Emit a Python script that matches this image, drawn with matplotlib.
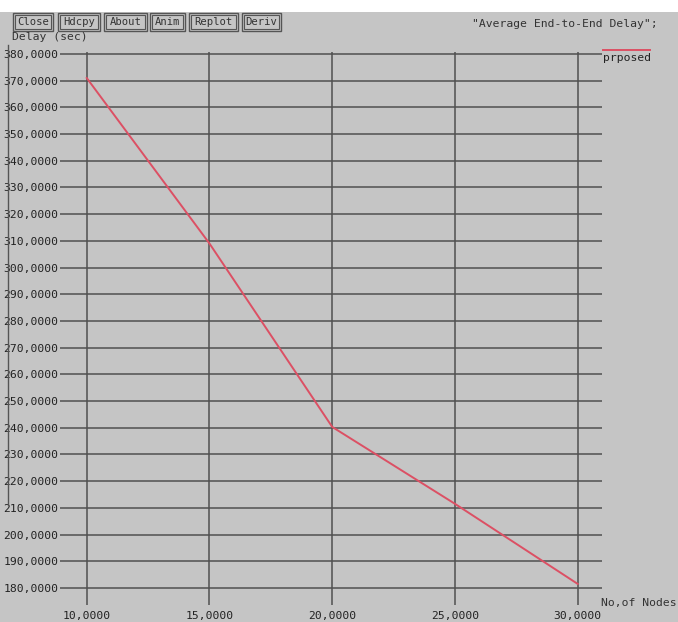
import matplotlib
matplotlib.use("Agg")
import matplotlib.pyplot as plt
from matplotlib.patches import Rectangle
from matplotlib.lines import Line2D

# ---- data ----
nodes = [10, 15, 20, 25, 30]
delay = [371.0, 309.0, 240.3, 211.5, 181.5]
series_name = "prposed"
x_ticks = [10, 15, 20, 25, 30]
y_ticks = list(range(180, 381, 10))
title_text = '"Average End-to-End Delay";'
x_label = "No,of Nodes"
y_label = "Delay (sec)"
buttons = ["Close", "Hdcpy", "About", "Anim", "Replot", "Deriv"]

W, H = 678, 622
BG = "#c5c5c5"
GRID = "#505050"
LINE = "#dc5064"
FONT = "DejaVu Sans Mono"
FS = 8.2

fig = plt.figure(figsize=(W / 100, H / 100), dpi=100, facecolor=BG)

def fx(px):
    return px / W

def fy(py):
    return 1 - py / H

# axes frame in pixels: x 60..602, y 52..605
L, R, T, B = 60, 602, 52, 605
ax = fig.add_axes([fx(L), fy(B), fx(R - L), (B - T) / H])
ax.set_facecolor(BG)
for s in ax.spines.values():
    s.set_visible(False)

ax.plot(nodes, delay, color=LINE, lw=1.4, zorder=3)

# data limits mapped to the pixel frame
ax.set_xlim(8.91, 30.99)
ax.set_ylim(173.6, 380.75)
ax.set_xticks(x_ticks)
ax.set_xticklabels([f"{v:.4f}".replace(".", ",") for v in x_ticks])
ax.set_yticks(y_ticks)
ax.set_yticklabels([f"{v:.4f}".replace(".", ",") for v in y_ticks])
ax.tick_params(axis="both", length=0, labelsize=FS, colors="#222222")
ax.tick_params(axis="y", pad=1.2)
ax.tick_params(axis="x", pad=4.0)
for t in ax.get_xticklabels() + ax.get_yticklabels():
    t.set_fontfamily(FONT)
ax.grid(True, color=GRID, lw=1.1, zorder=1)
ax.set_axisbelow(True)

# white band at the top
fig.patches.append(Rectangle((0, fy(12)), 1, 12 / H, transform=fig.transFigure,
                             facecolor="white", edgecolor="none", zorder=0))

# left window edge
fig.lines.append(Line2D([fx(8), fx(8)], [fy(45), fy(505)], transform=fig.transFigure,
                        color="#555555", lw=1.0))

# buttons
bx = [(13, 53), (58, 100), (104, 147), (150, 185), (189, 238), (242, 281)]
for name, (x0, x1) in zip(buttons, bx):
    y0, y1 = 13, 31
    for inset, lw in ((0, 1.0), (2, 0.8)):
        fig.patches.append(Rectangle((fx(x0 + inset), fy(y1 - inset)),
                                     (x1 - x0 - 2 * inset) / W, (y1 - y0 - 2 * inset) / H,
                                     transform=fig.transFigure, facecolor="none",
                                     edgecolor="#555555", lw=lw, zorder=2))
    fig.text(fx((x0 + x1) / 2), fy((y0 + y1) / 2), name, ha="center", va="center",
             fontsize=7.6, family=FONT, color="#333333")

fig.text(fx(12), fy(37), y_label, ha="left", va="center", fontsize=FS,
         family=FONT, color="#333333")
fig.text(fx(472), fy(24), title_text, ha="left", va="center", fontsize=FS,
         family=FONT, color="#333333")
fig.text(fx(601), fy(603), x_label, ha="left", va="center", fontsize=FS,
         family=FONT, color="#333333")

# legend
fig.lines.append(Line2D([fx(603), fx(650)], [fy(50), fy(50)], transform=fig.transFigure,
                        color=LINE, lw=1.4))
fig.text(fx(603), fy(58), series_name, ha="left", va="center", fontsize=FS,
         family=FONT, color="#222222")

fig.savefig("out.png", dpi=100, facecolor=BG)
